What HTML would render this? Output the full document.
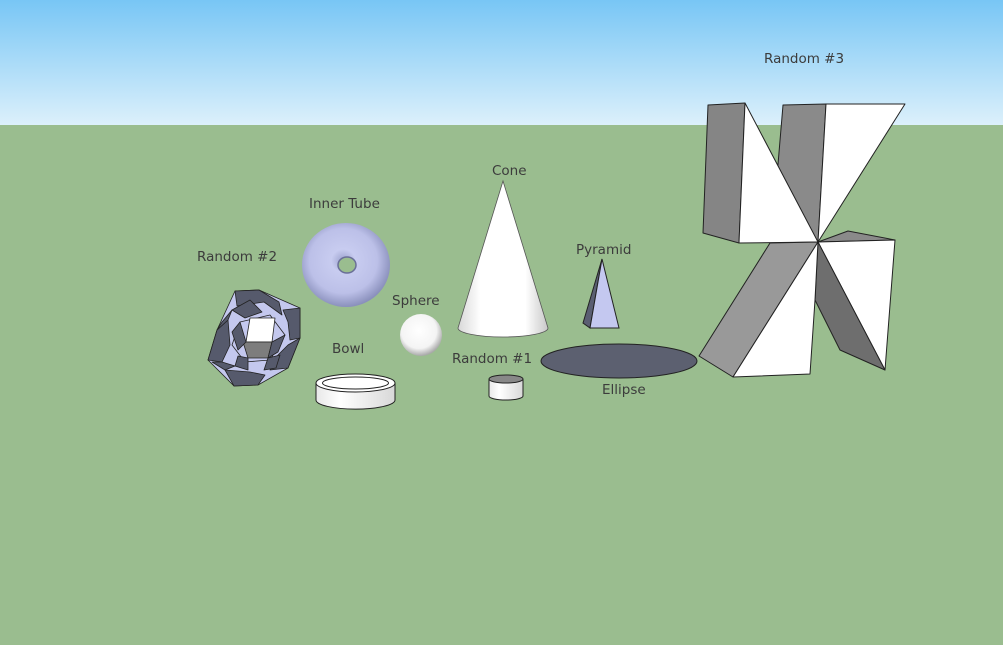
<!DOCTYPE html>
<html><head><style>
body{margin:0;width:1003px;height:645px;overflow:hidden;font-family:"DejaVu Sans",sans-serif;}
</style></head><body>
<svg width="1003" height="645" xmlns="http://www.w3.org/2000/svg">
<defs>
<linearGradient id="sky" x1="0" y1="0" x2="0" y2="1"><stop offset="0" stop-color="#78c6f5"/><stop offset="1" stop-color="#dcf0fb"/></linearGradient>
<radialGradient id="tor" cx="0.47" cy="0.45" r="0.55"><stop offset="0" stop-color="#9aa0cc"/><stop offset="0.25" stop-color="#c8ccf0"/><stop offset="0.7" stop-color="#bcc0e8"/><stop offset="1" stop-color="#8a90bc"/></radialGradient>
<radialGradient id="sph" cx="0.45" cy="0.4" r="0.6"><stop offset="0" stop-color="#fff"/><stop offset="0.7" stop-color="#f4f4f4"/><stop offset="1" stop-color="#a8a8a8"/></radialGradient>
<linearGradient id="cone" x1="0" y1="0" x2="1" y2="0"><stop offset="0" stop-color="#d8d8d8"/><stop offset="0.25" stop-color="#fff"/><stop offset="0.75" stop-color="#fff"/><stop offset="1" stop-color="#c8c8c8"/></linearGradient>
<linearGradient id="cyl" x1="0" y1="0" x2="1" y2="0"><stop offset="0" stop-color="#e8e8e8"/><stop offset="0.3" stop-color="#fff"/><stop offset="1" stop-color="#d8d8d8"/></linearGradient>
</defs>
<rect width="1003" height="125" fill="url(#sky)"/>
<rect y="125" width="1003" height="520" fill="#9abd8f"/>
<g font-size="13.5" fill="#3c3c3c">
<text x="764" y="63">Random #3</text>
<text x="492" y="175">Cone</text>
<text x="309" y="208">Inner Tube</text>
<text x="197" y="261">Random #2</text>
<text x="576" y="254">Pyramid</text>
<text x="392" y="305">Sphere</text>
<text x="332" y="353">Bowl</text>
<text x="452" y="363">Random #1</text>
<text x="602" y="394">Ellipse</text>
</g>
<!-- Random #3 -->
<g stroke="#222" stroke-width="1" stroke-linejoin="round">
<polygon points="783,105 826,104 818,242 775,200" fill="#8a8a8a"/>
<polygon points="826,104 905,104 818,242" fill="#fff"/>
<polygon points="708,105 745,103 739,243 703,233" fill="#858585"/>
<polygon points="745,103 818,242 739,243" fill="#fff"/>
<polygon points="818,242 848,231 895,240" fill="#8a8a8a"/>
<polygon points="818,242 895,240 885,370" fill="#fff"/>
<polygon points="818,242 885,370 840,350 815,300" fill="#6e6e6e"/>
<polygon points="770,243 818,242 733,377 699,356" fill="#999"/>
<polygon points="818,242 815,300 810,374 733,377" fill="#fff"/>
</g>
<!-- Cone -->
<path d="M503,181 L458,328 A45,9 0 0 0 548,328 Z" fill="url(#cone)" stroke="#555" stroke-width="0.8"/>
<!-- Pyramid -->
<polygon points="602,259 583,323 590,328" fill="#5a5e72" stroke="#222"/>
<polygon points="602,259 590,328 619,328" fill="#c4c8f0" stroke="#222"/>
<!-- Ellipse -->
<ellipse cx="619" cy="361" rx="78" ry="17" fill="#5c6070" stroke="#222"/>
<!-- Random #1 -->
<path d="M489,379 L489,396 A17,4 0 0 0 523,396 L523,379" fill="url(#cyl)" stroke="#222"/>
<ellipse cx="506" cy="379" rx="17" ry="4" fill="#888" stroke="#222"/>
<!-- Torus -->
<ellipse cx="346" cy="265" rx="44" ry="42" fill="url(#tor)"/>
<ellipse cx="347" cy="265" rx="9" ry="8" fill="#9abd8f" stroke="#6a6f98" stroke-width="1.5"/>
<!-- Sphere -->
<circle cx="421" cy="335" r="21" fill="url(#sph)"/>
<!-- Bowl -->
<path d="M316,383 L316,400 A39,9 0 0 0 395,400 L395,383" fill="url(#cyl)" stroke="#222"/>
<ellipse cx="355.5" cy="383" rx="39.5" ry="9" fill="#fff" stroke="#222"/>
<ellipse cx="355.5" cy="383" rx="33" ry="6" fill="#fff" stroke="#222"/>
<!-- Random #2 -->
<g stroke="#222" stroke-width="0.8" stroke-linejoin="round">
<polygon points="235,291 259,290 300,308 300,338 288,368 258,385 234,386 208,360 217,330" fill="#c4c8ee"/>
<polygon points="235,291 259,290 279,302 282,315 264,302 237,306" fill="#565a6c"/>
<polygon points="283,310 300,308 300,338 290,340 288,322" fill="#565a6c"/>
<polygon points="288,345 300,338 288,368 270,370 278,355" fill="#565a6c"/>
<polygon points="258,385 234,386 225,370 250,372 265,375" fill="#565a6c"/>
<polygon points="208,360 217,330 228,320 230,345 222,362" fill="#565a6c"/>
<polygon points="232,310 250,300 262,312 245,318" fill="#565a6c"/>
<polygon points="217,330 228,320 232,310 222,322" fill="#565a6c"/>
<polygon points="222,362 235,366 225,370 212,362" fill="#565a6c"/>
<polygon points="240,322 270,315 285,335 270,360 245,362 232,345" fill="#c4c8ee"/>
<polygon points="250,318 275,318 272,342 246,342" fill="#fff"/>
<polygon points="243,342 272,342 268,358 248,358" fill="#7d7d7d"/>
<polygon points="232,332 240,322 246,342 238,350" fill="#565a6c"/>
<polygon points="272,342 285,335 278,352 268,358" fill="#565a6c"/>
<polygon points="238,356 248,358 248,370 235,366" fill="#565a6c"/>
<polygon points="268,358 280,355 276,368 264,370" fill="#565a6c"/>
</g>
</svg>
</body></html>
